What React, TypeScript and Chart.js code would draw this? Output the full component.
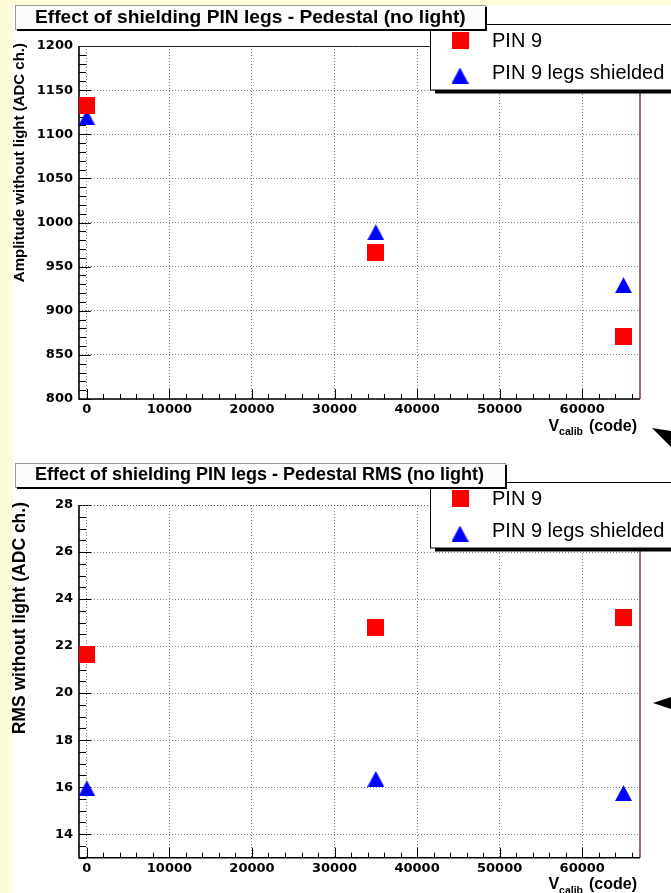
import React, { useEffect, useRef } from 'react';
import { Chart, registerables } from 'chart.js';

Chart.register(...registerables);

// ---- data ----
const vcalibCodes = [0, 35000, 65000];
const amplitudePin9 = [1133, 966, 871];
const amplitudePin9Shielded = [1119, 989, 929];
const rmsPin9 = [21.65, 22.8, 23.2];
const rmsPin9Shielded = [15.95, 16.35, 15.75];

const xTickValues = [0, 10000, 20000, 30000, 40000, 50000, 60000];
const amplitudeTickValues = [800, 850, 900, 950, 1000, 1050, 1100, 1150, 1200];
const rmsTickValues = [14, 16, 18, 20, 22, 24, 26, 28];

const seriesLabels = ['PIN 9', 'PIN 9 legs shielded'];
const panelTitles = [
  'Effect of shielding PIN legs - Pedestal (no light)',
  'Effect of shielding PIN legs - Pedestal RMS (no light)',
];
const yAxisTitles = ['Amplitude without light (ADC ch.)', 'RMS without light (ADC ch.)'];
const xAxisTitleMain = 'V';
const xAxisTitleSub = 'calib';
const xAxisTitleUnit = '(code)';

// ---- layout ----
const W = 671;
const PLOT_LEFT = 79;
const PLOT_RIGHT = 640;
const X_MIN = -950;
const X_MAX = 67000;

type PanelCfg = {
  canvasTop: number;
  height: number;
  plotTop: number;
  plotBottom: number;
  yMin: number;
  yMax: number;
  yTicks: number[];
  yMinorStep: number;
  red: number[];
  blue: number[];
  title: string;
  titleFont: number;
  titleBoxRight: number;
  yTitle: string;
  yTitleFont: number;
  arrow: number[][];
  dottedTop: boolean;
};

const panels: PanelCfg[] = [
  {
    canvasTop: 0, height: 458, plotTop: 46, plotBottom: 399,
    yMin: 800, yMax: 1200, yTicks: amplitudeTickValues, yMinorStep: 10,
    red: amplitudePin9, blue: amplitudePin9Shielded,
    title: panelTitles[0], titleFont: 19.2, titleBoxRight: 487,
    yTitle: yAxisTitles[0], yTitleFont: 15,
    arrow: [[652, 428], [671, 431], [671, 447]], dottedTop: false,
  },
  {
    canvasTop: 458, height: 435, plotTop: 47, plotBottom: 399.7,
    yMin: 13, yMax: 28, yTicks: rmsTickValues, yMinorStep: 0.5,
    red: rmsPin9, blue: rmsPin9Shielded,
    title: panelTitles[1], titleFont: 18, titleBoxRight: 507,
    yTitle: yAxisTitles[1], yTitleFont: 17.5,
    arrow: [[653, 245], [671, 239], [671, 251]], dottedTop: true,
  },
];

const RED = '#ff0000';
const BLUE = '#0000ff';
const GRID = 'rgba(95,110,95,0.85)';

function makeSquare(size: number, color: string) {
  const c = document.createElement('canvas');
  c.width = size; c.height = size;
  const g = c.getContext('2d')!;
  g.fillStyle = color;
  g.fillRect(0, 0, size, size);
  return c;
}
function makeTriangle(w: number, h: number, color: string) {
  const c = document.createElement('canvas');
  c.width = w; c.height = h;
  const g = c.getContext('2d')!;
  g.fillStyle = color;
  g.beginPath();
  g.moveTo(w / 2, 0);
  g.lineTo(w, h);
  g.lineTo(0, h);
  g.closePath();
  g.fill();
  return c;
}

function makeDecor(cfg: PanelCfg, square: HTMLCanvasElement, tri: HTMLCanvasElement) {
  return {
    id: 'decor',
    beforeDatasetsDraw(chart: any) {
      const ctx = chart.ctx as CanvasRenderingContext2D;
      const { left, right, top, bottom } = chart.chartArea;
      const xs = chart.scales.x;
      const ys = chart.scales.y;
      ctx.save();
      // minor/major ticks
      ctx.strokeStyle = '#000';
      ctx.lineWidth = 1;
      ctx.beginPath();
      const n = Math.round((cfg.yMax - cfg.yMin) / cfg.yMinorStep);
      for (let i = 0; i <= n; i++) {
        const v = cfg.yMin + i * cfg.yMinorStep;
        const isMajor = cfg.yTicks.some((t) => Math.abs(t - v) < 1e-6);
        const py = Math.round(ys.getPixelForValue(v)) + 0.5;
        ctx.moveTo(left, py);
        ctx.lineTo(left + (isMajor ? 12 : 7), py);
      }
      for (let v = 0; v <= 66000; v += 2000) {
        const isMajor = v % 10000 === 0;
        const px = Math.round(xs.getPixelForValue(v)) + 0.5;
        ctx.moveTo(px, bottom);
        ctx.lineTo(px, bottom - (isMajor ? 10 : 5));
      }
      ctx.stroke();
      // frame
      ctx.lineWidth = 1;
      if (cfg.dottedTop) {
        ctx.setLineDash([1, 2]);
        ctx.strokeStyle = '#555';
      } else {
        ctx.strokeStyle = '#222';
      }
      ctx.beginPath();
      ctx.moveTo(left, top + 0.5);
      ctx.lineTo(right, top + 0.5);
      ctx.stroke();
      ctx.setLineDash([]);
      ctx.strokeStyle = '#7a3a3a';
      ctx.lineWidth = 1.5;
      ctx.beginPath();
      ctx.moveTo(right, top);
      ctx.lineTo(right, bottom);
      ctx.stroke();
      ctx.strokeStyle = '#000';
      ctx.lineWidth = 1.6;
      ctx.beginPath();
      ctx.moveTo(left, top);
      ctx.lineTo(left, bottom);
      ctx.lineTo(right, bottom);
      ctx.stroke();
      ctx.restore();
    },
    afterDraw(chart: any) {
      const ctx = chart.ctx as CanvasRenderingContext2D;
      const { top, bottom } = chart.chartArea;
      ctx.save();
      // legend box
      ctx.fillStyle = '#000';
      ctx.fillRect(435, 90, W - 435, 3.5);
      ctx.fillStyle = '#fff';
      ctx.fillRect(430, 24, W - 430, 66);
      ctx.strokeStyle = '#000';
      ctx.lineWidth = 1;
      ctx.strokeRect(430.5, 24.5, W, 65.5);
      ctx.drawImage(square, 460 - square.width / 2, 40 - square.height / 2);
      ctx.drawImage(tri, 460 - tri.width / 2, 75.5 - tri.height / 2);
      ctx.fillStyle = '#000';
      ctx.font = '20px "Liberation Sans", Arial, sans-serif';
      ctx.textBaseline = 'middle';
      ctx.textAlign = 'left';
      ctx.fillText(seriesLabels[0], 492, 41);
      ctx.fillText(seriesLabels[1], 492, 73);

      // title box
      const tbR = cfg.titleBoxRight;
      ctx.fillStyle = '#fcfcfc';
      ctx.fillRect(15, 5, tbR - 15, 26);
      ctx.strokeStyle = '#999';
      ctx.strokeRect(15.5, 5.5, tbR - 17, 24);
      ctx.fillStyle = '#000';
      ctx.fillRect(17, 29, tbR - 17, 2);
      ctx.fillRect(tbR - 2, 7, 2, 24);
      ctx.font = `bold ${cfg.titleFont}px "Liberation Sans", Arial, sans-serif`;
      ctx.textBaseline = 'middle';
      ctx.fillText(cfg.title, 35, 17.5);

      // y axis title
      ctx.save();
      ctx.translate(20, top - 3);
      ctx.rotate(-Math.PI / 2);
      ctx.font = `bold ${cfg.yTitleFont}px "Liberation Sans", Arial, sans-serif`;
      ctx.textAlign = 'right';
      ctx.textBaseline = 'middle';
      ctx.fillText(cfg.yTitle, 0, 0);
      ctx.restore();

      // x axis title
      const base = bottom + 31.5;
      ctx.textBaseline = 'alphabetic';
      ctx.textAlign = 'left';
      ctx.font = 'bold 16px "Liberation Sans", Arial, sans-serif';
      const wUnit = ctx.measureText(xAxisTitleUnit).width;
      const wV = ctx.measureText(xAxisTitleMain).width;
      const unitX = 637 - wUnit;
      ctx.fillText(xAxisTitleUnit, unitX, base);
      ctx.font = 'bold 10.5px "Liberation Sans", Arial, sans-serif';
      const wSub = ctx.measureText(xAxisTitleSub).width;
      const subX = unitX - 6 - wSub;
      ctx.fillText(xAxisTitleSub, subX, base + 4.5);
      ctx.font = 'bold 16px "Liberation Sans", Arial, sans-serif';
      ctx.fillText(xAxisTitleMain, subX - wV, base);

      // arrow head decoration
      ctx.fillStyle = '#000';
      ctx.beginPath();
      cfg.arrow.forEach((p, i) => (i === 0 ? ctx.moveTo(p[0], p[1]) : ctx.lineTo(p[0], p[1])));
      ctx.closePath();
      ctx.fill();
      ctx.restore();
    },
  };
}

function Panel({ cfg }: { cfg: PanelCfg }) {
  const ref = useRef<HTMLCanvasElement>(null);
  useEffect(() => {
    const square = makeSquare(17, RED);
    const tri = makeTriangle(17, 16, BLUE);
    const tickFont = { family: '"DejaVu Sans", sans-serif', weight: 'bold' as const, size: 13 };
    const chart = new Chart(ref.current!, {
      type: 'scatter',
      data: {
        datasets: [
          {
            label: seriesLabels[0],
            data: vcalibCodes.map((x, i) => ({ x, y: cfg.red[i] })),
            pointStyle: square as any,
            pointRadius: 8,
            backgroundColor: RED,
            borderColor: RED,
            showLine: false,
          },
          {
            label: seriesLabels[1],
            data: vcalibCodes.map((x, i) => ({ x, y: cfg.blue[i] })),
            pointStyle: tri as any,
            pointRadius: 8,
            backgroundColor: BLUE,
            borderColor: BLUE,
            showLine: false,
          },
        ],
      },
      options: {
        animation: false,
        responsive: false,
        devicePixelRatio: 1,
        layout: { padding: { top: cfg.plotTop, right: W - PLOT_RIGHT, left: 0, bottom: 0 } },
        plugins: { legend: { display: false }, title: { display: false }, tooltip: { enabled: false } },
        scales: {
          x: {
            type: 'linear',
            min: X_MIN,
            max: X_MAX,
            afterBuildTicks: (s: any) => {
              s.ticks = xTickValues.map((v) => ({ value: v }));
            },
            afterFit: (s: any) => {
              s.height = cfg.height - cfg.plotBottom;
            },
            ticks: {
              font: tickFont,
              color: '#000',
              padding: 3,
              maxRotation: 0,
              autoSkip: false,
              callback: (v: any) => String(v),
            },
            grid: { color: GRID, lineWidth: 1, drawTicks: false },
            border: { display: false, dash: [1, 2] },
          },
          y: {
            type: 'linear',
            min: cfg.yMin,
            max: cfg.yMax,
            afterBuildTicks: (s: any) => {
              s.ticks = cfg.yTicks.map((v) => ({ value: v }));
            },
            afterFit: (s: any) => {
              s.width = PLOT_LEFT;
            },
            ticks: {
              font: tickFont,
              color: '#000',
              padding: 6,
              autoSkip: false,
              callback: (v: any) => String(v),
            },
            grid: { color: GRID, lineWidth: 1, drawTicks: false },
            border: { display: false, dash: [1, 2] },
          },
        },
      },
      plugins: [makeDecor(cfg, square, tri)],
    } as any);
    return () => chart.destroy();
  }, [cfg]);
  return (
    <canvas
      ref={ref}
      width={W}
      height={cfg.height}
      style={{ position: 'absolute', left: 0, top: cfg.canvasTop, width: W, height: cfg.height }}
    />
  );
}

export default function App() {
  return (
    <div
      style={{
        position: 'absolute',
        left: 0,
        top: 0,
        width: W,
        height: 893,
        background: '#fdfbd8',
        overflow: 'hidden',
      }}
    >
      <div style={{ position: 'absolute', left: 13, top: 5, right: 0, bottom: 0, background: '#fff' }} />
      <Panel cfg={panels[0]} />
      <Panel cfg={panels[1]} />
    </div>
  );
}
